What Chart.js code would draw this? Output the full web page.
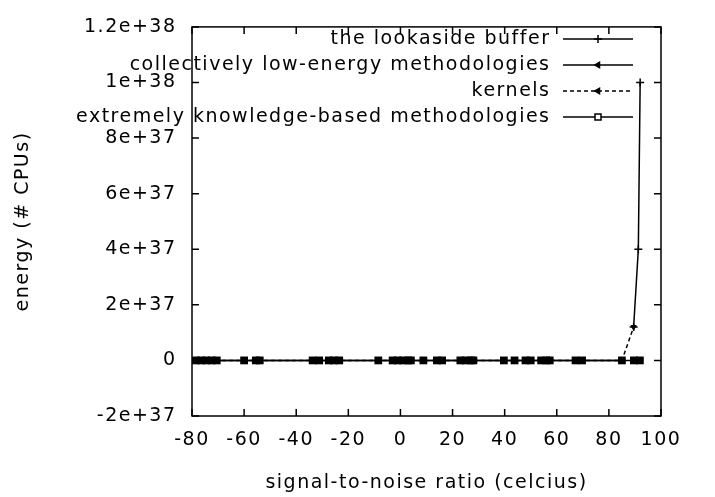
<!DOCTYPE html>
<html>
<head>
<meta charset="utf-8">
<script src="https://cdn.jsdelivr.net/npm/chart.js@4.4.0/dist/chart.umd.min.js"></script>
<style>
  html, body { margin: 0; padding: 0; background: #fff; }
  canvas { display: block; }
</style>
</head>
<body>
<canvas id="chart" width="715" height="497"></canvas>
<script>
// tick values and labels (gnuplot style)
var xTicks = [-80, -60, -40, -20, 0, 20, 40, 60, 80, 100];
var yTicks = [-2e37, 0, 2e37, 4e37, 6e37, 8e37, 1e38, 1.2e38];
var yTickLabels = ["-2e+37", "0", "2e+37", "4e+37", "6e+37", "8e+37", "1e+38", "1.2e+38"];

// series
var lookasideX = [89.5, 91.3, 92.0];
var lookasideY = [1.2e37, 4e37, 1e38];

var lowEnergyX = [-78.5, -60, -33.7, -8.5, 14, 39.7, 54, 67.2, 85];
var lowEnergyY = [0, 0, 0, 0, 0, 0, 0, 0, 0];

var kernelsX = [-76.5, -54, -25.5, -1, 23, 48, 69.7, 85, 89.5];
var kernelsY = [0, 0, 0, 0, 0, 0, 0, 0, 1.2e37];

var knowledgeX = [-78.5, -76.5, -74.5, -72.5, -70.5, -60, -55.5, -54, -33.7, -31.2,
  -27.5, -25.5, -23.5, -8.5, -3, -1, 1, 3, 4, 8.8, 14, 16, 23, 25, 27, 28,
  39.7, 43.8, 48, 50, 54, 56, 57.3, 67.2, 69.7, 85, 89.6, 91.9];
var knowledgeY = [0, 0, 0, 0, 0, 0, 0, 0, 0, 0,
  0, 0, 0, 0, 0, 0, 0, 0, 0, 0, 0, 0, 0, 0, 0, 0,
  0, 0, 0, 0, 0, 0, 0, 0, 0, 0, 0, 0];

var FONT = '"DejaVu Sans", sans-serif';
var SIZE = 19;
var SPACING = '1.5px';

function pts(xs, ys) {
  return xs.map(function (x, i) { return { x: x, y: ys[i] }; });
}

// gnuplot text is widely spaced
var spacingPlugin = {
  id: 'spacing',
  beforeLayout: function (chart) { chart.ctx.letterSpacing = SPACING; },
  beforeDraw: function (chart) { chart.ctx.letterSpacing = SPACING; }
};

// border box with inward ticks on all four sides
var framePlugin = {
  id: 'frame',
  beforeDatasetsDraw: function (chart) {
    var ctx = chart.ctx, a = chart.chartArea;
    var xs = chart.scales.x, ys = chart.scales.y;
    var len = 7;
    ctx.save();
    ctx.strokeStyle = '#000';
    ctx.lineWidth = 1.5;
    ctx.strokeRect(a.left, a.top, a.right - a.left, a.bottom - a.top);
    ctx.beginPath();
    xTicks.forEach(function (v) {
      var px = xs.getPixelForValue(v);
      ctx.moveTo(px, a.bottom); ctx.lineTo(px, a.bottom - len);
      ctx.moveTo(px, a.top); ctx.lineTo(px, a.top + len);
    });
    yTicks.forEach(function (v) {
      var py = ys.getPixelForValue(v);
      ctx.moveTo(a.left, py); ctx.lineTo(a.left + len, py);
      ctx.moveTo(a.right, py); ctx.lineTo(a.right - len, py);
    });
    ctx.stroke();
    ctx.restore();
  }
};

// key in the top right, text right aligned and sample after it
var keyPlugin = {
  id: 'key',
  afterDatasetsDraw: function (chart) {
    var ctx = chart.ctx;
    var textRight = 550.5, lineStart = 563, lineEnd = 633, markX = 598;
    var rowY = [39, 65, 91, 117];
    ctx.save();
    ctx.font = SIZE + 'px ' + FONT;
    ctx.letterSpacing = SPACING;
    ctx.fillStyle = '#000';
    ctx.textAlign = 'right';
    ctx.textBaseline = 'middle';
    chart.data.datasets.forEach(function (ds, i) {
      var y = rowY[i];
      ctx.fillText(ds.label, textRight, y);
      ctx.beginPath();
      ctx.setLineDash(ds.borderDash || []);
      ctx.lineWidth = ds.borderWidth;
      ctx.strokeStyle = '#000';
      ctx.moveTo(lineStart, y);
      ctx.lineTo(lineEnd, y);
      ctx.stroke();
      ctx.setLineDash([]);
      if (ds.pointStyle === 'rect') {
        ctx.fillStyle = '#fff';
        ctx.fillRect(markX - 3, y - 3, 6, 6);
        ctx.lineWidth = 1.5;
        ctx.strokeRect(markX - 3, y - 3, 6, 6);
        ctx.fillStyle = '#000';
      } else {
        Chart.helpers.drawPoint(ctx, {
          pointStyle: ds.pointStyle,
          rotation: ds.pointStyle === 'triangle' ? 270 : 0,
          radius: ds.pointRadius,
          borderWidth: 1.5
        }, markX, y);
      }
    });
    ctx.restore();
  }
};

var ctx = document.getElementById('chart').getContext('2d');
new Chart(ctx, {
  type: 'line',
  data: {
    datasets: [
      {
        label: 'the lookaside buffer',
        data: pts(lookasideX, lookasideY),
        borderColor: '#000', backgroundColor: '#000', borderWidth: 1.5,
        pointStyle: 'cross', pointRadius: 4, pointBorderWidth: 1.5,
        order: 1
      },
      {
        label: 'collectively low-energy methodologies',
        data: pts(lowEnergyX, lowEnergyY),
        borderColor: '#000', backgroundColor: '#000', borderWidth: 1.5,
        pointStyle: 'triangle', pointRadius: 3, pointBorderWidth: 1,
        order: 3
      },
      {
        label: 'kernels',
        data: pts(kernelsX, kernelsY),
        borderColor: '#000', backgroundColor: '#000', borderWidth: 1.5,
        borderDash: [4, 3],
        pointStyle: 'triangle', rotation: 180, pointRadius: 3, pointBorderWidth: 1,
        order: 2
      },
      {
        label: 'extremely knowledge-based methodologies',
        data: pts(knowledgeX, knowledgeY),
        borderColor: '#000', backgroundColor: '#000', borderWidth: 1.5,
        pointStyle: 'rect', pointRadius: 5.5, pointBorderWidth: 0,
        order: 0
      }
    ]
  },
  options: {
    responsive: false,
    devicePixelRatio: 1,
    animation: false,
    events: [],
    layout: { padding: { top: 19, right: 54, left: 0, bottom: 0 } },
    plugins: { legend: { display: false }, tooltip: { enabled: false } },
    elements: { line: { tension: 0 } },
    scales: {
      x: {
        type: 'linear',
        min: -80, max: 100,
        afterFit: function (s) { s.height = 81; },
        afterBuildTicks: function (s) { s.ticks = xTicks.map(function (v) { return { value: v }; }); },
        grid: { display: false, drawTicks: false },
        border: { display: false },
        ticks: { color: '#000', padding: 13, maxRotation: 0, font: { family: FONT, size: SIZE } },
        title: {
          display: true, text: 'signal-to-noise ratio (celcius)', color: '#000',
          font: { family: FONT, size: SIZE }, padding: { top: 0, bottom: 3 }
        }
      },
      y: {
        type: 'linear',
        min: -2e37, max: 1.2e38,
        afterFit: function (s) { s.width = 192; },
        afterBuildTicks: function (s) { s.ticks = yTicks.map(function (v) { return { value: v }; }); },
        grid: { display: false, drawTicks: false },
        border: { display: false },
        ticks: {
          color: '#000', padding: 15.5, font: { family: FONT, size: SIZE },
          callback: function (value, index) { return yTickLabels[index]; }
        },
        title: {
          display: true, text: 'energy (# CPUs)', color: '#000',
          font: { family: FONT, size: SIZE }, padding: { top: 12, bottom: 0 }
        }
      }
    }
  },
  plugins: [spacingPlugin, framePlugin, keyPlugin]
});
</script>
</body>
</html>
